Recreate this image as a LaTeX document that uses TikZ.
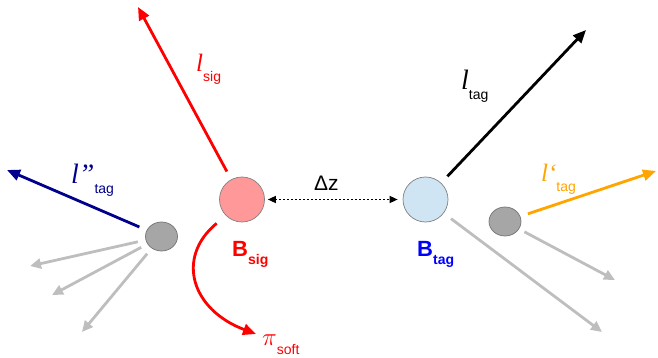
\documentclass[tikz,border=0pt]{standalone}
\usepackage{fontspec}
\setsansfont{Liberation Sans}
\newfontfamily\lfont{Liberation Serif}
\usepackage{tikz}
\usetikzlibrary{arrows.meta, shapes.geometric}
\definecolor{sigfill}{RGB}{255,153,153}
\definecolor{tagfill}{RGB}{207,229,243}
\definecolor{softgray}{RGB}{190,190,190}
\definecolor{navyblue}{RGB}{0,0,140}
\definecolor{tagorange}{RGB}{255,165,0}
\tikzset{bvertex/.style = {shape = circle, draw = gray, line width = 0.7pt, minimum size = 45pt, inner sep = 0pt}}
\tikzset{dvertex/.style = {shape = ellipse, draw = black!55, fill = black!35, line width = 0.7pt, minimum width = 32pt, minimum height = 29pt, inner sep = 0pt}}
\tikzset{track/.style = {line width = 2.8pt, -{Triangle[length = 13pt, width = 11pt]}}}
\tikzset{softtrack/.style = {line width = 2.8pt, draw = softgray, -{Triangle[length = 11pt, width = 10pt]}}}
\tikzset{lbl/.style = {inner sep = 0pt, anchor = base west}}
\newcommand{\lep}[3]{{\lfont\itshape\fontsize{#1}{#1}\selectfont l#2}\raisebox{-10pt}{\sffamily\fontsize{14}{14}\selectfont #3}}

\begin{document}
\begin{tikzpicture}[x = 1pt, y = -1pt]
	\useasboundingbox (0, 0) rectangle (658, 358);

	\node[bvertex, fill = sigfill] (bsig) at (242, 199.5) {};
	\node[bvertex, fill = tagfill] (btag) at (425.5, 199.5) {};
	\node[dvertex] (dleft) at (161.5, 236.5) {};
	\node[dvertex] (dright) at (505, 221.5) {};

	\coordinate (lsig) at (138, 7);
	\coordinate (ltag) at (586, 30);
	\coordinate (lpp) at (7, 170);
	\coordinate (lp) at (656, 171);
	\coordinate (gt) at (602, 332);
	\coordinate (gr) at (615, 280);
	\coordinate (gla) at (30, 266);
	\coordinate (glb) at (52, 295);
	\coordinate (glc) at (82, 332);
	\coordinate (softend) at (256, 334);

	\draw[track, red, shorten < = 9pt] (bsig) to (lsig);
	\draw[track, black, shorten < = 9pt] (btag) to (ltag);
	\draw[softtrack, shorten < = 9pt] (btag) to (gt);
	\draw[track, tagorange, shorten < = 8pt] (dright) to (lp);
	\draw[softtrack, shorten < = 6pt] (dright) to (gr);
	\draw[track, navyblue, shorten < = 8pt] (dleft) to (lpp);
	\draw[softtrack, shorten < = 8pt] (dleft) to (gla);
	\draw[softtrack, shorten < = 7pt] (dleft) to (glb);
	\draw[softtrack, shorten < = 7pt] (dleft) to (glc);
	\draw[track, red, shorten < = 12pt] (bsig.225) .. controls (175, 258) and (192, 310) .. (softend);
	\draw[line width = 1.5pt, dash pattern = on 2pt off 2pt, {Triangle[length = 8pt, width = 7pt]}-{Triangle[length = 8pt, width = 7pt]}, shorten < = 3pt, shorten > = 5pt] (bsig) to (btag);

	\node[lbl, red] (lsiglbl) at (196, 72) {\lep{25}{}{sig}};
	\node[lbl, black] (ltaglbl) at (461, 90) {\lep{28}{}{tag}};
	\node[lbl, navyblue] (lpplbl) at (71, 183) {\lep{28}{”}{tag}};
	\node[lbl, tagorange] (lplbl) at (541, 182) {\lep{25}{‘}{tag}};
	\node[lbl] (dz) at (314, 190) {\sffamily\fontsize{21}{21}\selectfont Δz};
	\node[lbl, red] (bsiglbl) at (232, 256) {\sffamily\bfseries\fontsize{22}{22}\selectfont B\raisebox{-8pt}{\fontsize{14}{14}\selectfont sig}};
	\node[lbl, blue] (btaglbl) at (417, 256) {\sffamily\bfseries\fontsize{22}{22}\selectfont B\raisebox{-8pt}{\fontsize{14}{14}\selectfont tag}};
	\node[lbl, red] (pisoft) at (262, 345) {{\fontsize{24}{24}\selectfont$\pi$}\raisebox{-9pt}{\sffamily\fontsize{14}{14}\selectfont soft}};
\end{tikzpicture}
\end{document}
